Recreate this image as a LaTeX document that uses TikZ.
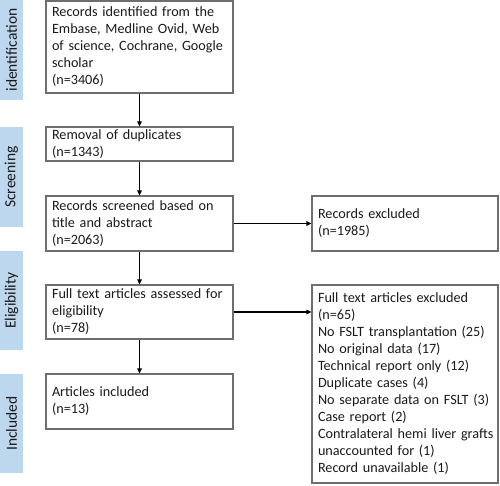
\documentclass[tikz,border=0pt]{standalone}
\usepackage{fontspec}
\setmainfont{Carlito}
\usetikzlibrary{arrows.meta}
\definecolor{barblue}{HTML}{BDD7EE}
\definecolor{boxgray}{HTML}{6E6E6E}
\definecolor{txt}{HTML}{1A1A1A}
\begin{document}
\begin{tikzpicture}[x=1pt,y=-1pt,
  box/.style={draw=boxgray, line width=1.2pt, rectangle, inner xsep=6pt, inner ysep=0pt,
    align=left, font=\fontsize{14.2}{17}\selectfont, text=txt},
  lbox/.style={box, minimum width=187pt, text width=175pt},
  rbox/.style={box, minimum width=186pt, text width=174pt},
  bar/.style={fill=barblue, draw=none, rotate=90, inner sep=0pt, minimum height=23pt,
    font=\fontsize{15.5}{18}\selectfont, text=txt},
  arr/.style={-{Triangle[length=5pt,width=4.5pt]}, line width=1.1pt, black}]
\useasboundingbox (0,0) rectangle (500,486);
% stage bars
\node[bar, minimum width=100pt] (sid) at (11.5,50) {identification};
\node[bar, minimum width=100pt] (ssc) at (11.5,177) {Screening};
\node[bar, minimum width=99pt] (sel) at (11.5,300.5) {Eligibility};
\node[bar, minimum width=99pt] (sin) at (11.5,423.5) {Included};
% main boxes
\node[lbox, minimum height=92pt] (n1) at (139.5,47) {Records~identified~from~the\\Embase,~Medline~Ovid,~Web\\of~science,~Cochrane,~Google\\scholar\\(n=3406)};
\node[lbox, minimum height=34pt] (n2) at (139.5,144) {Removal of duplicates\\(n=1343)};
\node[lbox, minimum height=55pt] (n3) at (139.5,223.5) {Records~screened~based~on\\title and abstract\\(n=2063)};
\node[lbox, minimum height=54pt] (n4) at (139.5,312) {Full~text~articles~assessed~for\\eligibility\\(n=78)};
\node[lbox, minimum height=55pt] (n5) at (139.5,401.5) {Articles included\\(n=13)};
% exclusion boxes
\node[rbox, minimum height=55pt] (r1) at (405,223.5) {Records excluded\\(n=1985)};
\node[rbox, minimum height=198pt] (r2) at (405,384) {Full~text~articles~excluded\\(n=65)\\No~FSLT~transplantation~(25)\\No original data (17)\\Technical~report~only~(12)\\Duplicate cases (4)\\No~separate~data~on~FSLT~(3)\\Case report (2)\\Contralateral~hemi~liver~grafts\\unaccounted for (1)\\Record unavailable (1)};
% connectors
\draw[arr] (n1) -- (n2);
\draw[arr] (n2) -- (n3);
\draw[arr] (n3) -- (n4);
\draw[arr] (n4) -- (n5);
\draw[arr] (n3) -- (r1);
\draw[arr] (n4.east) -- (n4.east -| r2.west);
\end{tikzpicture}
\end{document}
